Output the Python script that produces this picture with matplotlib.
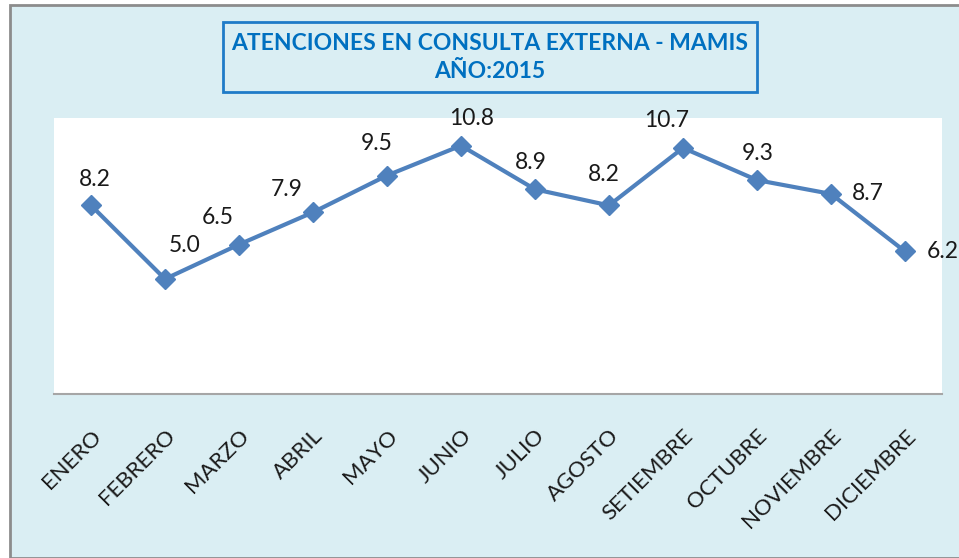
import numpy as np
import matplotlib.pyplot as plt
from matplotlib.patches import Rectangle

plt.rcParams['font.family'] = ['Lato', 'DejaVu Sans']

meses = ['ENERO', 'FEBRERO', 'MARZO', 'ABRIL', 'MAYO', 'JUNIO', 'JULIO',
         'AGOSTO', 'SETIEMBRE', 'OCTUBRE', 'NOVIEMBRE', 'DICIEMBRE']
atenciones = [8.2, 5.0, 6.5, 7.9, 9.5, 10.8, 8.9, 8.2, 10.7, 9.3, 8.7, 6.2]
titulo = 'ATENCIONES EN CONSULTA EXTERNA - MAMIS'
subtitulo = 'AÑO:2015'

# label offsets in pixels (dx, dy, ha) - placed by hand like in the original
offsets = [(4, 26, 'center'), (20, 33, 'center'), (-21, 27, 'center'),
           (-26, 23, 'center'), (-10, 32, 'center'), (11, 27, 'center'),
           (-4, 27, 'center'), (-5, 31, 'center'), (-16, 27, 'center'),
           (1, 27, 'center'), (21, 0, 'left'), (22, 0, 'left')]

W, H = 959, 558
fig = plt.figure(figsize=(W / 100, H / 100), dpi=100)
fig.patch.set_facecolor('white')

# chart area background + frame
fig.patches.append(Rectangle((10 / W, 0), 1, 1 - 5 / H, transform=fig.transFigure,
                             facecolor='#daeef3', edgecolor='#8c8c8c', linewidth=2,
                             zorder=-1))

ax = fig.add_axes([54 / W, 1 - 394 / H, (942 - 54) / W, (394 - 118) / H])
ax.set_facecolor('white')

x = np.arange(len(meses))
ax.plot(x, atenciones, color='#4f81bd', linewidth=3, marker='D', markersize=10.5,
        clip_on=False)

for xi, v, (dx, dy, ha) in zip(x, atenciones, offsets):
    ax.annotate(f'{v:.1f}', (xi, v), xytext=(dx, dy), textcoords='offset pixels',
                ha=ha, va='center', fontsize=16.5, color='#1a1a1a',
                annotation_clip=False)

ax.set_xlim(-0.5, len(meses) - 0.5)
ax.set_ylim(0, 12)
ax.set_yticks([])
ax.set_xticks(x)
ax.set_xticklabels(meses, rotation=45, ha='right', rotation_mode='anchor',
                   fontsize=16, color='#1a1a1a')
ax.tick_params(axis='x', length=0, pad=23)
for s in ['top', 'left', 'right']:
    ax.spines[s].set_visible(False)
ax.spines['bottom'].set_color('#a6a6a6')
ax.spines['bottom'].set_linewidth(1.5)

# title box
fig.patches.append(Rectangle((223 / W, 1 - 92 / H), (757 - 223) / W, (92 - 22) / H,
                             transform=fig.transFigure, facecolor='none',
                             edgecolor='#1f7bc8', linewidth=2, zorder=3))
fig.text(490 / W, 1 - 43 / H, titulo, ha='center', va='center', fontsize=16.5,
         fontweight='bold', color='#0070c0')
fig.text(490 / W, 1 - 72 / H, subtitulo, ha='center', va='center', fontsize=16.5,
         fontweight='bold', color='#0070c0')

fig.savefig('out.png', dpi=100)
